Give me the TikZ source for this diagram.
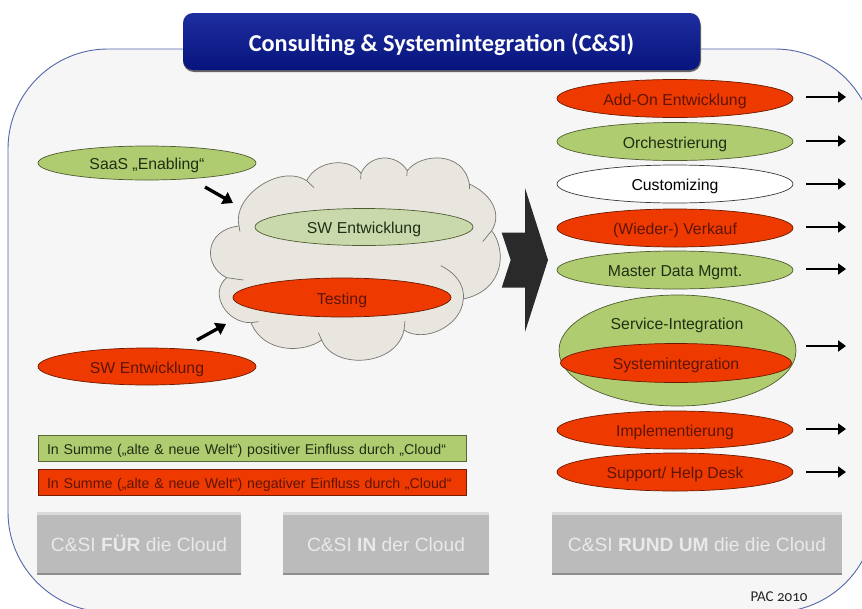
\documentclass[tikz,border=0pt]{standalone}
\usepackage{fontspec}
\setmainfont{Liberation Sans}
\newfontfamily\carlito[Numbers=OldStyle]{Carlito}
\usetikzlibrary{shapes.geometric,arrows.meta}
\definecolor{pacred}{HTML}{EE3A00}
\definecolor{pacgreen}{HTML}{B0CC70}
\definecolor{pacpale}{HTML}{CAD9AC}
\definecolor{redtext}{HTML}{5E1408}
\definecolor{greentext}{HTML}{1E3014}
\definecolor{panelfill}{HTML}{F6F6F6}
\definecolor{panelline}{HTML}{5566AA}
\definecolor{cloudfill}{HTML}{E8E6DF}
\definecolor{cloudline}{HTML}{77756F}
\definecolor{btnfill}{HTML}{BBBBBB}
\definecolor{btntop}{HTML}{DADADA}
\definecolor{btnlow}{HTML}{8E8E8E}
\definecolor{btntext}{HTML}{E9E9E9}
\definecolor{navytop}{HTML}{1E2E9E}
\definecolor{navylow}{HTML}{07147E}
\definecolor{chevron}{HTML}{2A2A2A}
\tikzset{
  x=1pt,y=-1pt,
  oval/.style={shape=ellipse,draw=#1!45!black,line width=.7pt,inner sep=0pt,minimum width=236pt,minimum height=38pt,text height=13pt,text depth=0pt,font=\fontsize{15.8}{18}\selectfont},
  redoval/.style={oval=pacred,fill=pacred,text=redtext},
  greenoval/.style={oval=pacgreen,fill=pacgreen,text=greentext},
  whiteoval/.style={oval=gray,fill=white,text=black},
  paleoval/.style={oval=pacgreen,fill=pacpale,text=greentext},
  legendbox/.style={shape=rectangle,draw=#1!50!black,line width=.8pt,minimum width=428pt,minimum height=26pt,inner xsep=0pt,inner ysep=0pt,text width=410pt,align=left,text height=12pt,text depth=0pt,font=\fontsize{14.2}{16}\selectfont},
  btn/.style={shape=rectangle,fill=btnfill,minimum height=58pt,inner sep=0pt,text=btntext,text height=14pt,text depth=0pt,font=\fontsize{19.2}{22}\selectfont},
  pointer/.style={-{Triangle[length=8pt,width=11pt]},line width=2.7pt,black},
  bigpointer/.style={-{Triangle[length=10pt,width=13pt]},line width=3.3pt,black},
  cloudedge/.style={draw=cloudline,line width=.7pt},
}
\begin{document}
\begin{tikzpicture}
\useasboundingbox (0,0) rectangle (862,608);
\fill[white] (0,0) rectangle (862,608);
% panel
\begin{scope}
\clip (0,0) rectangle (862,608);
\draw[panelline,fill=panelfill,line width=.9pt,rounded corners=100pt] (8,49) rectangle (875,612);
\end{scope}
% title
\fill[black!60,rounded corners=11pt] (183,15) rectangle (701,72);
\shade[top color=navytop,bottom color=navylow,rounded corners=10pt] (183,13) rectangle (700,70);
\node[text=white,inner sep=0pt,font=\carlito\bfseries\fontsize{24.25}{28}\selectfont] (title) at (441.5,44.5) {Consulting \& Systemintegration (C\&SI)};
% cloud
\begin{scope}[shift={(190,140)},x=.33333pt,y=-.33333pt]
\path[fill=cloudfill,cloudedge] (147,258)
  .. controls (125,170) and (270,70) .. (350,122)
  .. controls (380,60) and (480,50) .. (513,100)
  .. controls (540,40) and (620,40) .. (652,92)
  .. controls (690,40) and (820,30) .. (838,132)
  .. controls (910,165) and (935,225) .. (905,272)
  .. controls (950,330) and (945,450) .. (820,477)
  .. controls (815,560) and (700,610) .. (642,570)
  .. controls (620,680) and (430,690) .. (395,600)
  .. controls (340,640) and (220,640) .. (183,548)
  .. controls (110,550) and (55,460) .. (110,413)
  .. controls (40,380) and (40,270) .. (147,258) -- cycle;
\draw[cloudedge] (147,258) -- (150,275);
\draw[cloudedge] (350,122) -- (372,143);
\draw[cloudedge] (513,100) -- (512,118);
\draw[cloudedge] (652,92) -- (650,108);
\draw[cloudedge] (838,132) -- (838,146);
\draw[cloudedge] (905,272) -- (878,305);
\draw[cloudedge] (820,477) .. controls (825,430) and (790,395) .. (752,377);
\draw[cloudedge] (642,570) -- (645,543);
\draw[cloudedge] (395,600) -- (385,578);
\draw[cloudedge] (183,548) -- (205,545);
\draw[cloudedge] (110,413) -- (160,420);
\end{scope}
% chevron
\fill[chevron] (501.7,232.7) -- (525,232.7) -- (525,188) -- (548,260) -- (525,332) -- (525,287.7) -- (501.7,287.7) -- (510.7,260) -- cycle;
% left ovals
\node[greenoval,minimum width=218pt,minimum height=34pt] (saas) at (147,163) {SaaS „Enabling“};
\node[redoval,minimum width=218pt,minimum height=37pt] (swred) at (147,366.5) {SW Entwicklung};
\node[paleoval,minimum width=218pt,minimum height=37pt] (swpale) at (364,227) {SW Entwicklung};
\node[redoval,minimum width=218pt,minimum height=39pt] (testing) at (342,297.5) {Testing};
% right ovals
\node[redoval] (addon) at (675,98.5) {Add-On Entwicklung};
\node[greenoval] (orch) at (675,141.5) {Orchestrierung};
\node[whiteoval] (cust) at (675,184) {Customizing};
\node[redoval] (verk) at (675,228) {(Wieder-) Verkauf};
\node[greenoval] (mdm) at (675,270) {Master Data Mgmt.};
\node[oval=pacgreen,fill=pacgreen,minimum width=237pt,minimum height=111pt] (svc) at (677.5,350.5) {};
\node[text=greentext,inner sep=0pt,text height=13pt,text depth=0pt,font=\fontsize{15.8}{18}\selectfont] (svct) at (677,323) {Service-Integration};
\node[redoval,minimum width=231pt,minimum height=39pt] (sys) at (676,363) {Systemintegration};
\node[redoval] (impl) at (675,430) {Implementierung};
\node[redoval] (supp) at (675,472) {Support/ Help Desk};
% right pointers
\foreach \n/\y in {addon/97,orch/141,cust/184,verk/227,mdm/269,svc/346,impl/429,supp/472}{
  \coordinate (\n s) at (806,\y);
  \coordinate (\n e) at (846,\y);
  \draw[pointer] (\n s) -- (\n e);
}
% cloud pointers
\coordinate (p1s) at (205,187);
\coordinate (p1e) at (233,203);
\coordinate (p2s) at (197,340);
\coordinate (p2e) at (226,324);
\draw[bigpointer] (p1s) -- (p1e);
\draw[bigpointer] (p2s) -- (p2e);
% legend
\node[legendbox=pacgreen,fill=pacgreen,text=greentext] (lg) at (252,448.5) {In Summe („alte \& neue Welt“) positiver Einfluss durch „Cloud“};
\node[legendbox=pacred,fill=pacred,text=redtext] (lr) at (252,482) {In Summe („alte \& neue Welt“) negativer Einfluss durch „Cloud“};
% buttons
\foreach \xa/\xb in {37/241,283/489,552/842}{
  \fill[btnlow] (\xa,512) rectangle (\xb,575);
  \fill[btntop] (\xa,511.5) rectangle (\xb,516);
}
\node[btn,minimum width=204pt] (b1) at (139,544) {C\&SI \textbf{FÜR} die Cloud};
\node[btn,minimum width=206pt] (b2) at (386,544) {C\&SI \textbf{IN} der Cloud};
\node[btn,minimum width=290pt] (b3) at (697,544) {C\&SI \textbf{RUND UM} die die Cloud};
\node[text=black!85,inner sep=0pt,font=\carlito\fontsize{15}{18}\selectfont] (pac) at (779,597) {PAC 2010};
\end{tikzpicture}
\end{document}
